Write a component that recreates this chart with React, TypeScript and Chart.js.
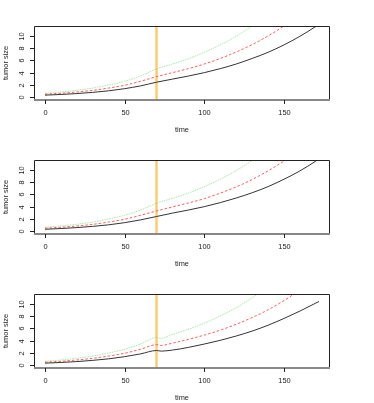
import React, { useEffect, useRef } from "react";
import { Chart, registerables } from "chart.js";

Chart.register(...registerables);

// ---- data ----
const times = [0, 10, 20, 30, 40, 50, 60, 70, 80, 90, 100, 110, 120, 130, 140, 150, 160, 170, 172];
const times3 = [0, 10, 20, 30, 40, 50, 60, 70, 73, 80, 90, 100, 110, 120, 130, 140, 150, 160, 170, 172];

const p1Black = [0.35, 0.46, 0.6, 0.8, 1.05, 1.4, 1.85, 2.45, 2.95, 3.45, 4.0, 4.65, 5.4, 6.3, 7.3, 8.5, 9.9, 11.5, 11.85];
const p1Red = [0.5, 0.65, 0.86, 1.13, 1.5, 1.95, 2.6, 3.35, 4.0, 4.65, 5.4, 6.3, 7.35, 8.55, 9.95, 11.6, 13.5];
const p1Green = [0.65, 0.86, 1.14, 1.5, 2.0, 2.6, 3.45, 4.6, 5.4, 6.25, 7.3, 8.5, 9.9, 11.6, 13.5];

const p2Black = [0.33, 0.45, 0.6, 0.8, 1.05, 1.4, 1.85, 2.4, 2.95, 3.45, 4.0, 4.65, 5.4, 6.25, 7.25, 8.45, 9.8, 11.4, 11.75];
const p2Red = [0.5, 0.65, 0.86, 1.13, 1.5, 1.95, 2.6, 3.3, 3.95, 4.6, 5.3, 6.2, 7.2, 8.4, 9.8, 11.4, 13.2];
const p2Green = [0.65, 0.86, 1.14, 1.5, 2.0, 2.6, 3.45, 4.55, 5.35, 6.2, 7.25, 8.45, 9.85, 11.5, 13.4];

const p3Black = [0.35, 0.46, 0.6, 0.8, 1.05, 1.4, 1.85, 2.4, 2.3, 2.47, 2.9, 3.45, 4.05, 4.75, 5.55, 6.5, 7.6, 8.8, 10.1, 10.35];
const p3Red = [0.5, 0.65, 0.86, 1.13, 1.5, 1.95, 2.6, 3.35, 3.22, 3.6, 4.2, 4.9, 5.7, 6.65, 7.75, 9.0, 10.5, 12.2];
const p3Green = [0.65, 0.86, 1.14, 1.5, 2.0, 2.6, 3.45, 4.5, 4.37, 5.0, 5.85, 6.85, 8.0, 9.35, 10.95, 12.8];

const xTicks = [0, 50, 100, 150];
const yTicks = [0, 2, 4, 6, 8, 10];
const treatmentTime = 70;
const xLabel = "time";
const yLabel = "tumor size";

const xMin = -6.88;
const xMax = 178.88;
const yMin = -0.44;
const yMax = 11.57;

const FONT = "7.4px 'Liberation Sans', Arial, sans-serif";
const TEXT = "#222";

const toPts = (t: number[], v: number[]) => v.map((y, i) => ({ x: t[i], y }));

const rAxesPlugin = {
  id: "rAxes",
  beforeDatasetsDraw(chart: any) {
    const { ctx, chartArea: a, scales } = chart;
    const xs = scales.x;
    ctx.save();
    const vx = xs.getPixelForValue(treatmentTime);
    ctx.strokeStyle = "rgba(255,170,30,0.65)";
    ctx.lineWidth = 2.4;
    ctx.beginPath();
    ctx.moveTo(vx, a.top);
    ctx.lineTo(vx, a.bottom);
    ctx.stroke();
    ctx.restore();
  },
  afterDatasetsDraw(chart: any) {
    const { ctx, chartArea: a, scales } = chart;
    const xs = scales.x;
    const ys = scales.y;
    ctx.save();
    ctx.strokeStyle = "#222";
    ctx.lineWidth = 1;
    ctx.beginPath();
    ctx.moveTo(a.left + 0.5, a.bottom);
    ctx.lineTo(a.left + 0.5, a.top + 0.5);
    ctx.lineTo(a.right - 0.5, a.top + 0.5);
    ctx.lineTo(a.right - 0.5, a.bottom);
    ctx.stroke();
    ctx.strokeStyle = "#888";
    ctx.lineWidth = 2;
    ctx.beginPath();
    ctx.moveTo(a.left, a.bottom);
    ctx.lineTo(a.right, a.bottom);
    ctx.stroke();

    ctx.strokeStyle = "#222";
    ctx.lineWidth = 1;
    ctx.fillStyle = TEXT;
    ctx.font = FONT;
    ctx.textAlign = "center";
    ctx.textBaseline = "middle";
    xTicks.forEach((t) => {
      const px = Math.round(xs.getPixelForValue(t)) + 0.5;
      ctx.beginPath();
      ctx.moveTo(px, a.bottom);
      ctx.lineTo(px, a.bottom + 4);
      ctx.stroke();
      ctx.fillText(String(t), px, a.bottom + 13);
    });
    ctx.fillText(xLabel, (a.left + a.right) / 2, a.bottom + 30);

    yTicks.forEach((t) => {
      const py = Math.round(ys.getPixelForValue(t)) + 0.5;
      ctx.beginPath();
      ctx.moveTo(a.left - 4, py);
      ctx.lineTo(a.left, py);
      ctx.stroke();
      ctx.save();
      ctx.translate(a.left - 12.5, py);
      ctx.rotate(-Math.PI / 2);
      ctx.fillText(String(t), 0, 0);
      ctx.restore();
    });
    ctx.save();
    ctx.translate(5.5, (a.top + a.bottom) / 2);
    ctx.rotate(-Math.PI / 2);
    ctx.fillText(yLabel, 0, 0);
    ctx.restore();
    ctx.restore();
  },
};

function Panel({ t, black, red, green, height }: { t: number[]; black: number[]; red: number[]; green: number[]; height: number }) {
  const ref = useRef<HTMLCanvasElement | null>(null);
  useEffect(() => {
    if (!ref.current) return;
    const common = {
      pointRadius: 0,
      fill: false,
      cubicInterpolationMode: "monotone" as const,
      borderWidth: 1,
    };
    const chart = new Chart(ref.current, {
      type: "line",
      data: {
        datasets: [
          { ...common, data: toPts(t, black), borderColor: "#333" },
          { ...common, data: toPts(t, red), borderColor: "rgba(255,50,50,0.8)", borderDash: [2.5, 2] },
          { ...common, data: toPts(t, green), borderColor: "rgba(120,220,120,0.65)", borderDash: [1.5, 1] },
        ],
      },
      options: {
        animation: false,
        responsive: false,
        devicePixelRatio: 1,
        parsing: false as any,
        layout: { padding: { left: 34, right: 44, top: 26, bottom: height - 100 } },
        plugins: { legend: { display: false }, tooltip: { enabled: false } },
        scales: {
          x: { type: "linear", min: xMin, max: xMax, display: false },
          y: { type: "linear", min: yMin, max: yMax, display: false },
        },
      },
      plugins: [rAxesPlugin],
    });
    return () => chart.destroy();
  }, [t, black, red, green, height]);
  return <canvas ref={ref} width={374} height={height} style={{ display: "block", width: 374, height }} />;
}

export default function App() {
  return (
    <div style={{ position: "absolute", left: 0, top: 0, width: 374, height: 403, background: "#fff" }}>
      <Panel t={times} black={p1Black} red={p1Red} green={p1Green} height={134} />
      <Panel t={times} black={p2Black} red={p2Red} green={p2Green} height={134} />
      <Panel t={times3} black={p3Black} red={p3Red} green={p3Green} height={135} />
    </div>
  );
}
